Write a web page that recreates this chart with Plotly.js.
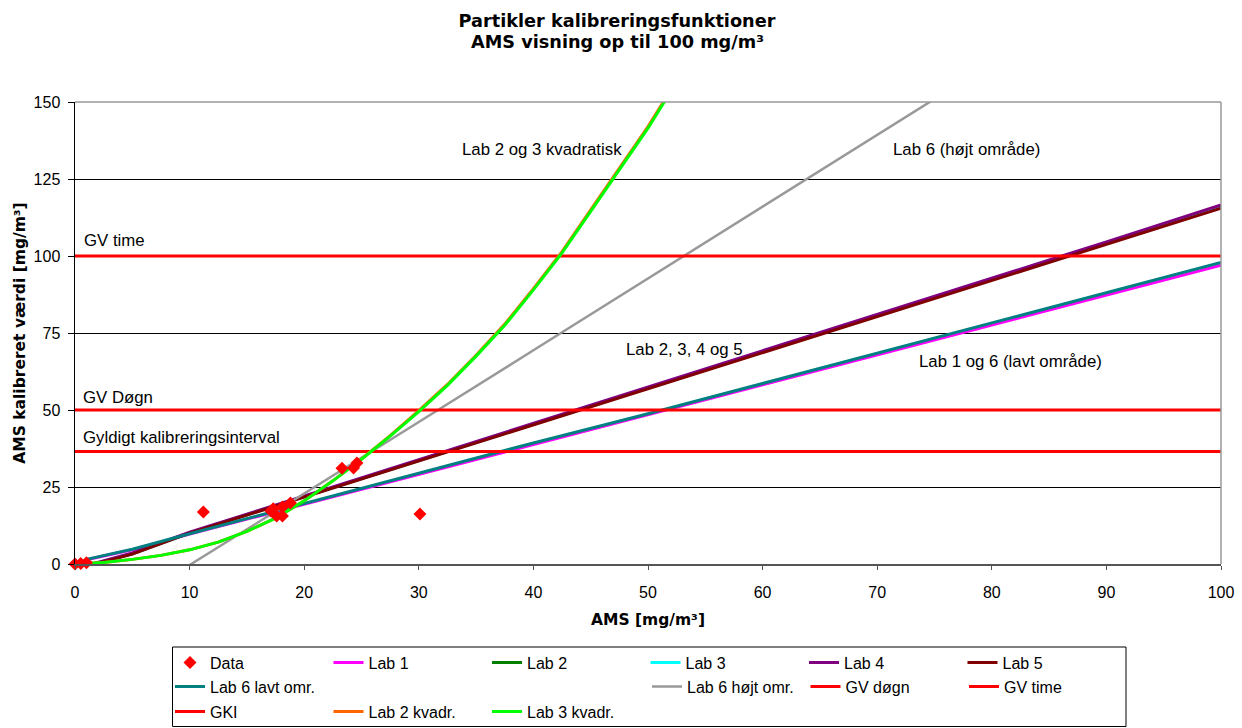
<!DOCTYPE html>
<html>
<head>
<meta charset="utf-8">
<script src="https://cdn.plot.ly/plotly-3.0.1.min.js"></script>
<style>html,body{margin:0;padding:0;background:#fff;}#chart{width:1242px;height:728px;}</style>
</head>
<body>
<div id="chart"></div>
<script>
// ---- data ----
const titleLine1 = "Partikler kalibreringsfunktioner";
const titleLine2 = "AMS visning op til 100 mg/m³";
const xTitle = "AMS [mg/m³]";
const yTitle = "AMS kalibreret værdi [mg/m³]";
const xTicks = [0, 10, 20, 30, 40, 50, 60, 70, 80, 90, 100];
const yTicks = [0, 25, 50, 75, 100, 125, 150];

const dataX = [0, 0.5, 1.0, 11.2, 17.1, 17.3, 17.6, 18.1, 18.1, 18.8, 23.3, 24.3, 24.6, 30.1];
const dataY = [0, 0.2, 0.4, 16.9, 17.2, 17.9, 15.6, 15.6, 18.5, 19.8, 31.1, 31.2, 32.8, 16.2];

const lowX  = [1, 5, 10, 20, 30, 40, 50, 60, 70, 80, 90, 100];
const lab1Y = [1.4, 4.6, 9.7, 19.4, 29.0, 38.8, 48.4, 58.1, 67.8, 77.5, 87.2, 97.0];
const lab6LowY = [1.5, 4.8, 9.8, 19.6, 29.3, 39.3, 48.8, 58.6, 68.4, 78.2, 88.1, 97.9];

const midX  = [0.5, 5, 10, 20, 30, 40, 50, 60, 70, 80, 90, 100];
const lab2Y = [-1.1, 3.3, 10.1, 21.9, 33.6, 45.4, 57.2, 68.9, 80.6, 92.3, 104.1, 115.9];
const lab3Y = [-1.1, 3.3, 10.1, 21.9, 33.6, 45.4, 57.2, 68.9, 80.6, 92.3, 104.1, 115.9];
const lab4Y = [-1.0, 3.6, 10.3, 22.1, 33.9, 45.7, 57.5, 69.2, 81.0, 92.7, 104.6, 116.6];
const lab5Y = [-1.2, 3.2, 10.0, 21.7, 33.5, 45.2, 57.0, 68.6, 80.3, 92.0, 103.7, 115.5];

const highX = [9.5, 20, 30, 40, 50, 60, 70, 76];
const lab6HighY = [-1.5, 22.8, 46.1, 69.4, 92.7, 116.0, 139.3, 153.3];

const quadX = [0, 2.5, 5, 7.5, 10, 12.5, 15, 17.5, 20, 22.5, 25, 27.5, 30, 32.5, 35, 37.5, 40, 42.5, 45, 47.5, 50, 52.5];
const lab2QuadY = [0, 0.5, 1.5, 2.8, 4.6, 7.1, 10.6, 14.9, 20.5, 27.0, 34.1, 41.7, 49.8, 58.3, 67.8, 77.9, 89.4, 101.4, 115.0, 128.5, 142.0, 157.0];
const lab3QuadY = [0, 0.5, 1.5, 2.8, 4.6, 7.1, 10.6, 14.9, 20.5, 27.0, 34.0, 41.5, 49.5, 58.0, 67.5, 77.5, 89.0, 101.0, 114.5, 128.0, 141.5, 156.5];

const limitX = [0, 100];
const gvDognY = [50, 50];
const gvTimeY = [100, 100];
const gkiY = [36.5, 36.5];

const labels = [
  {text: "GV time", x: 0.6, y: 104.9},
  {text: "GV Døgn", x: 0.5, y: 53.9},
  {text: "Gyldigt kalibreringsinterval", x: 0.5, y: 41.2},
  {text: "Lab 2 og 3 kvadratisk", x: 33.6, y: 134.7},
  {text: "Lab 6 (højt område)", x: 71.2, y: 134.7},
  {text: "Lab 2, 3, 4 og 5", x: 47.9, y: 69.8},
  {text: "Lab 1 og 6 (lavt område)", x: 73.5, y: 65.6}
];

// ---- traces ----
function line(name, x, y, color, width, legend, rank) {
  return {type: 'scatter', mode: 'lines', name: name, x: x, y: y,
          line: {color: color, width: width}, legend: legend, legendrank: rank, hoverinfo: 'skip'};
}
const traces = [
  line('Lab 1', lowX, lab1Y, '#FF00FF', 3, 'legend', 2),
  line('Lab 2', midX, lab2Y, '#008000', 3, 'legend', 3),
  line('Lab 3', midX, lab3Y, '#00FFFF', 3, 'legend', 4),
  line('Lab 4', midX, lab4Y, '#800080', 3, 'legend', 5),
  line('Lab 5', midX, lab5Y, '#800000', 3, 'legend', 6),
  line('Lab 6 lavt omr.', lowX, lab6LowY, '#008080', 3, 'legend2', 1),
  line('Lab 6 højt omr.', highX, lab6HighY, '#999999', 2.5, 'legend3', 1),
  line('GV døgn', limitX, gvDognY, '#FF0000', 3, 'legend3', 2),
  line('GV time', limitX, gvTimeY, '#FF0000', 3, 'legend3', 3),
  line('GKI', limitX, gkiY, '#FF0000', 3, 'legend4', 1),
  line('Lab 2 kvadr.', quadX, lab2QuadY, '#FF6600', 3, 'legend4', 2),
  line('Lab 3 kvadr.', quadX, lab3QuadY, '#00FF00', 3, 'legend4', 3),
  {type: 'scatter', mode: 'markers', name: 'Data', x: dataX, y: dataY,
   marker: {symbol: 'diamond', size: 10, color: '#FF0000'}, legend: 'legend', legendrank: 1, cliponaxis: false, hoverinfo: 'skip'}
];

// ---- layout ----
const L = 75, R = 1221, T = 102, B = 564;
const px2x = p => (p - L) / (R - L);
const px2y = p => (B - p) / (B - T);
function leg(xpx, ypx) {
  return {orientation: 'h', x: px2x(xpx), xanchor: 'left', y: px2y(ypx), yanchor: 'middle',
          bgcolor: 'rgba(0,0,0,0)', borderwidth: 0, font: {size: 16, color: '#000'},
          entrywidth: 113.5, entrywidthmode: 'pixels', traceorder: 'normal'};
}
const annFont = {family: '"Liberation Sans", Arial, sans-serif', size: 16.8, color: '#000'};
const boldFont = {family: '"DejaVu Sans", Verdana, sans-serif', weight: 'bold', color: '#000'};

const layout = {
  width: 1242, height: 728,
  margin: {l: 75, r: 21, t: 102, b: 164, autoexpand: false},
  paper_bgcolor: '#ffffff', plot_bgcolor: '#ffffff',
  font: {family: '"Liberation Sans", Arial, sans-serif', size: 16, color: '#000'},
  showlegend: true,
  title: {text: titleLine1, xref: 'container', x: 617 / 1242, xanchor: 'center',
          yref: 'container', y: 1 - 21 / 728, yanchor: 'middle',
          font: Object.assign({size: 17.7}, boldFont)},
  xaxis: {range: [0, 100], tickvals: xTicks, ticks: 'outside', ticklen: 4, tickwidth: 1, tickcolor: '#555555',
          showline: true, linecolor: '#555555', linewidth: 2, showgrid: false, zeroline: false,
          tickfont: {size: 16}, automargin: false, ticklabelstandoff: 9,
          title: {text: xTitle, font: Object.assign({size: 15.5}, boldFont), standoff: 14}},
  yaxis: {range: [0, 150], tickvals: yTicks, ticks: 'outside', ticklen: 6, tickwidth: 1, tickcolor: '#000',
          showline: true, linecolor: '#000', linewidth: 1.5, showgrid: true, gridcolor: '#000', gridwidth: 1,
          zeroline: false, tickfont: {size: 16}, automargin: false, ticklabelstandoff: 4,
          title: {text: yTitle, font: Object.assign({size: 15.5}, boldFont), standoff: 4}},
  legend: leg(170, 662.7),
  legend2: leg(170, 686.7),
  legend3: leg(170 + 3 * 159, 686.7),
  legend4: leg(170, 711.7),
  shapes: [
    {type: 'line', xref: 'paper', yref: 'paper', x0: 0, x1: 1, y0: 1, y1: 1, line: {color: '#999999', width: 1.5}},
    {type: 'line', xref: 'paper', yref: 'paper', x0: 1, x1: 1, y0: 0, y1: 1, line: {color: '#999999', width: 1.5}},
    {type: 'rect', xref: 'paper', yref: 'paper', x0: px2x(172.5), x1: px2x(1126), y0: px2y(647), y1: px2y(726.5),
     line: {color: '#000', width: 1}, fillcolor: 'rgba(0,0,0,0)'}
  ],
  annotations: labels.map(a => ({text: a.text, x: a.x, y: a.y, xref: 'x', yref: 'y', xanchor: 'left', yanchor: 'middle',
                                 showarrow: false, font: annFont})).concat([
    {text: titleLine2, xref: 'paper', yref: 'paper', x: px2x(617), y: px2y(41.5), xanchor: 'center', yanchor: 'middle',
     showarrow: false, font: Object.assign({size: 17.7}, boldFont)}
  ])
};

Plotly.newPlot('chart', traces, layout, {displayModeBar: false, staticPlot: true});
</script>
</body>
</html>
